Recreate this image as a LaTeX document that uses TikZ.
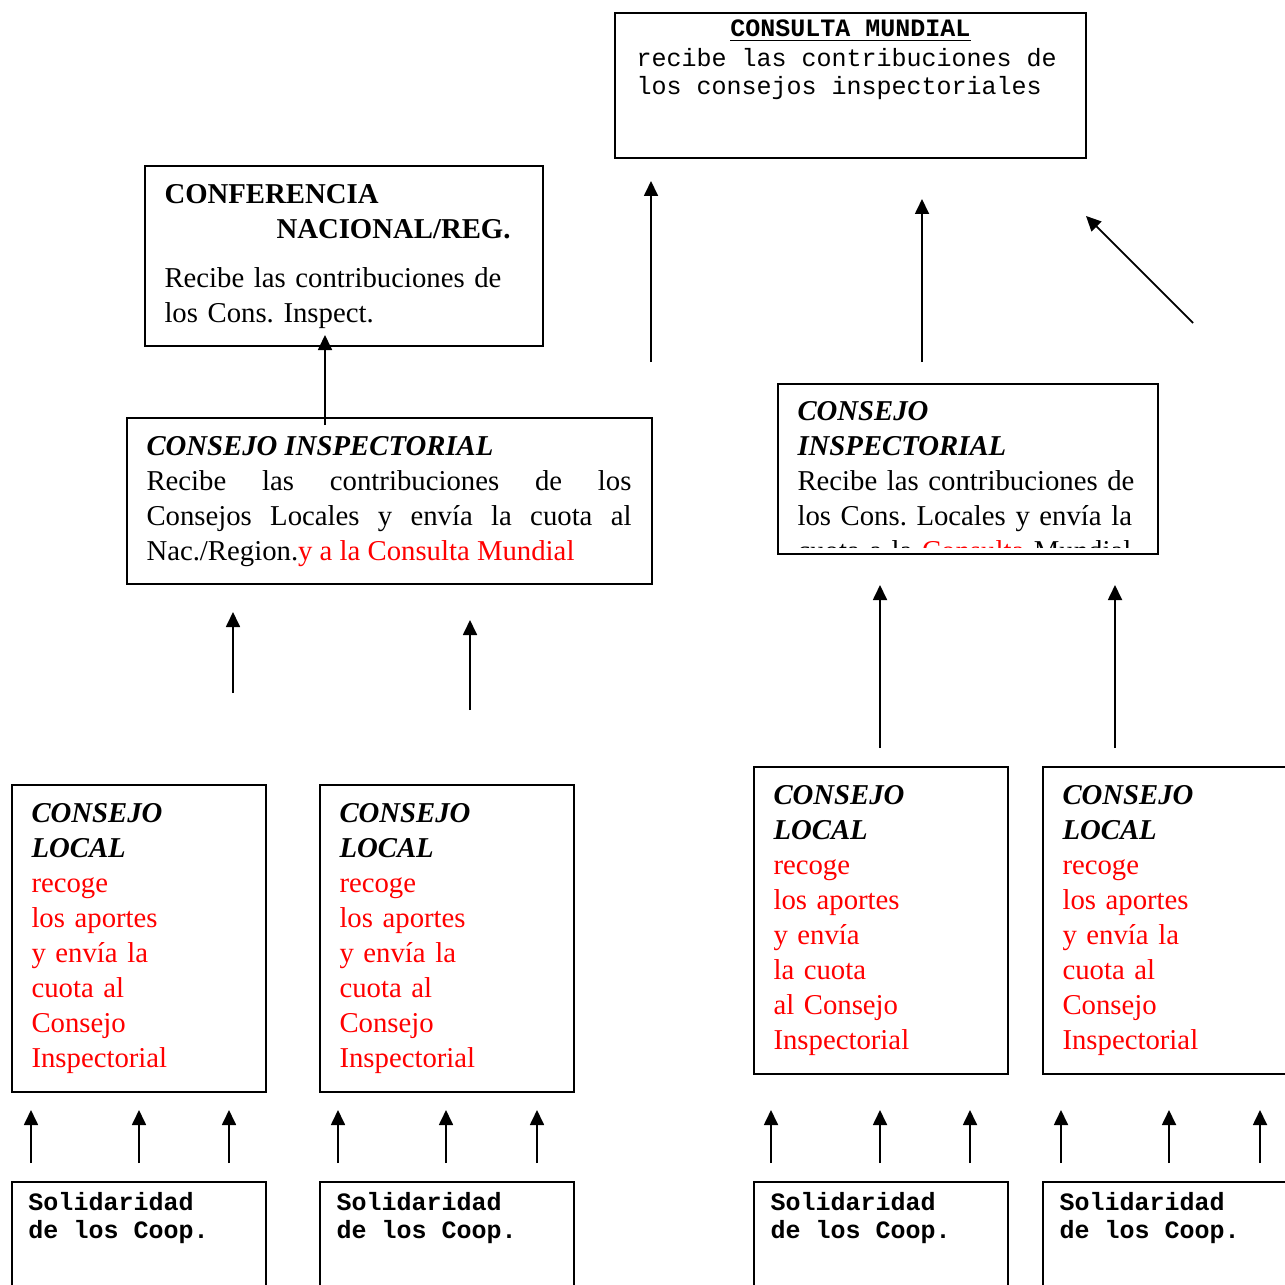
\documentclass[tikz,border=0pt]{standalone}
\usepackage{fontspec}
\setmainfont{Liberation Serif}
\setmonofont{Liberation Mono}
\usetikzlibrary{arrows.meta}
\definecolor{cuotared}{RGB}{255, 0, 0}
\frenchspacing

\tikzset{
  frame/.style={draw, line width=0.8pt, anchor=north west, inner sep=0pt},
  localbox/.style={frame, minimum width=101.6pt, minimum height=122.8pt},
  solbox/.style={frame, minimum width=101.6pt, minimum height=60pt},
  serif/.style={anchor=north west, inner sep=0pt, align=left, font=\fontsize{11.5}{14}\selectfont},
  mono/.style={anchor=north west, inner sep=0pt, align=left, font=\ttfamily\fontsize{10}{10}\selectfont},
  monobold/.style={mono, font=\ttfamily\bfseries\fontsize{10}{10}\selectfont},
  uparrow/.style={-{Triangle[length=6pt, width=5.6pt]}, line width=0.7pt},
}

\begin{document}
\begin{tikzpicture}[x=0.4pt, y=-0.4pt]
  \useasboundingbox (0,0) rectangle (1285,1285);

  % upper boxes
  \node[frame, minimum width=188.4pt, minimum height=58pt] (mund) at (614,12) {};
  \node[frame, minimum width=159.2pt, minimum height=72pt] (conf) at (144,165) {};
  \node[frame, minimum width=210pt, minimum height=66.4pt] (ciL) at (126,417) {};
  \node[frame, minimum width=152pt, minimum height=68pt] (ciR) at (777,383) {};

  \node[font=\ttfamily\bfseries\fontsize{10}{10}\selectfont, anchor=base, inner sep=0pt]
    (mundtitle) at ([yshift=-10pt]mund.north) {\underline{CONSULTA MUNDIAL}};
  \node[mono] (mundtxt) at ([xshift=8.8pt, yshift=-14.2pt]mund.north west)
    {\strut recibe las contribuciones de\\ los consejos inspectoriales};

  \node[serif, text width=150pt] (conftxt) at ([xshift=8pt, yshift=-5.4pt]conf.north west)
    {\strut\textbf{CONFERENCIA}\\ \hspace*{44.8pt}\textbf{NACIONAL/REG.}\\[5.6pt]
     Recibe las contribuciones de\\ los Cons. Inspect.};

  \node[serif, text width=194pt, align=justify] (ciLtxt) at ([xshift=8pt, yshift=-5.4pt]ciL.north west)
    {\strut\textbf{\textit{CONSEJO INSPECTORIAL}}\\
     Recibe las contribuciones de los\linebreak
     Consejos Locales y envía la cuota al\linebreak
     Nac./Region.{\color{cuotared}y a la Consulta Mundial}};

  \begin{scope}
    \clip (ciR.north west) rectangle ([yshift=3.2pt]ciR.south east);
    \node[serif, text width=150pt] (ciRtxt) at ([xshift=8pt, yshift=-5pt]ciR.north west)
      {\strut\textbf{\textit{CONSEJO}}\\ \textbf{\textit{INSPECTORIAL}}\\
       Recibe las contribuciones de\\ los Cons. Locales y envía la\\
       cuota a la {\color{cuotared}Consulta} Mundial};
  \end{scope}

  % local councils
  \foreach \x/\y/\n in {11/784/1, 319/784/2, 753/766/3, 1042/766/4}
    \node[localbox] (loc\n) at (\x,\y) {};

  \node[serif, text width=88pt] (loctxt1) at ([xshift=8pt, yshift=-5.4pt]loc1.north west)
    {\strut\textbf{\textit{CONSEJO}}\\ \textbf{\textit{LOCAL}}\\ \color{cuotared}recoge\\
     los aportes\\ y envía la\\ cuota al\\ Consejo\\ Inspectorial};
  \node[serif, text width=88pt] (loctxt2) at ([xshift=8pt, yshift=-5.4pt]loc2.north west)
    {\strut\textbf{\textit{CONSEJO}}\\ \textbf{\textit{LOCAL}}\\ \color{cuotared}recoge\\
     los aportes\\ y envía la\\ cuota al\\ Consejo\\ Inspectorial};
  \node[serif, text width=88pt] (loctxt3) at ([xshift=8pt, yshift=-5.4pt]loc3.north west)
    {\strut\textbf{\textit{CONSEJO}}\\ \textbf{\textit{LOCAL}}\\ \color{cuotared}recoge\\
     los aportes\\ y envía\\ la cuota\\ al Consejo\\ Inspectorial};
  \node[serif, text width=88pt] (loctxt4) at ([xshift=8pt, yshift=-5.4pt]loc4.north west)
    {\strut\textbf{\textit{CONSEJO}}\\ \textbf{\textit{LOCAL}}\\ \color{cuotared}recoge\\
     los aportes\\ y envía la\\ cuota al\\ Consejo\\ Inspectorial};

  % cooperatives
  \foreach \x/\n in {11/1, 319/2, 753/3, 1042/4} {
    \node[solbox] (sol\n) at (\x,1181) {};
    \node[monobold] (soltxt\n) at ([xshift=6.8pt, yshift=-4.2pt]sol\n.north west)
      {\strut Solidaridad\\ de los Coop.};
  }

  % arrows
  \coordinate (nacS) at (325,425);   \coordinate (nacT) at (325,335);
  \coordinate (mundS1) at (651,362); \coordinate (mundT1) at (651,181);
  \coordinate (mundS2) at (922,362); \coordinate (mundT2) at (922,199);
  \coordinate (mundS3) at (1193,323); \coordinate (mundT3) at (1086,216);
  \coordinate (ciLS1) at (233,693);  \coordinate (ciLT1) at (233,612);
  \coordinate (ciLS2) at (470,710);  \coordinate (ciLT2) at (470,620);
  \coordinate (ciRS1) at (880,748);  \coordinate (ciRT1) at (880,585);
  \coordinate (ciRS2) at (1115,748); \coordinate (ciRT2) at (1115,585);

  \draw[uparrow] (nacS) -- (nacT);
  \draw[uparrow] (mundS1) -- (mundT1);
  \draw[uparrow] (mundS2) -- (mundT2);
  \draw[uparrow] (mundS3) -- (mundT3);
  \draw[uparrow] (ciLS1) -- (ciLT1);
  \draw[uparrow] (ciLS2) -- (ciLT2);
  \draw[uparrow] (ciRS1) -- (ciRT1);
  \draw[uparrow] (ciRS2) -- (ciRT2);

  \foreach \x in {31,139,229,338,446,537,771,880,970,1061,1169,1260} {
    \coordinate (coopS\x) at (\x,1163);
    \coordinate (coopT\x) at (\x,1110);
    \draw[uparrow] (coopS\x) -- (coopT\x);
  }
\end{tikzpicture}
\end{document}
